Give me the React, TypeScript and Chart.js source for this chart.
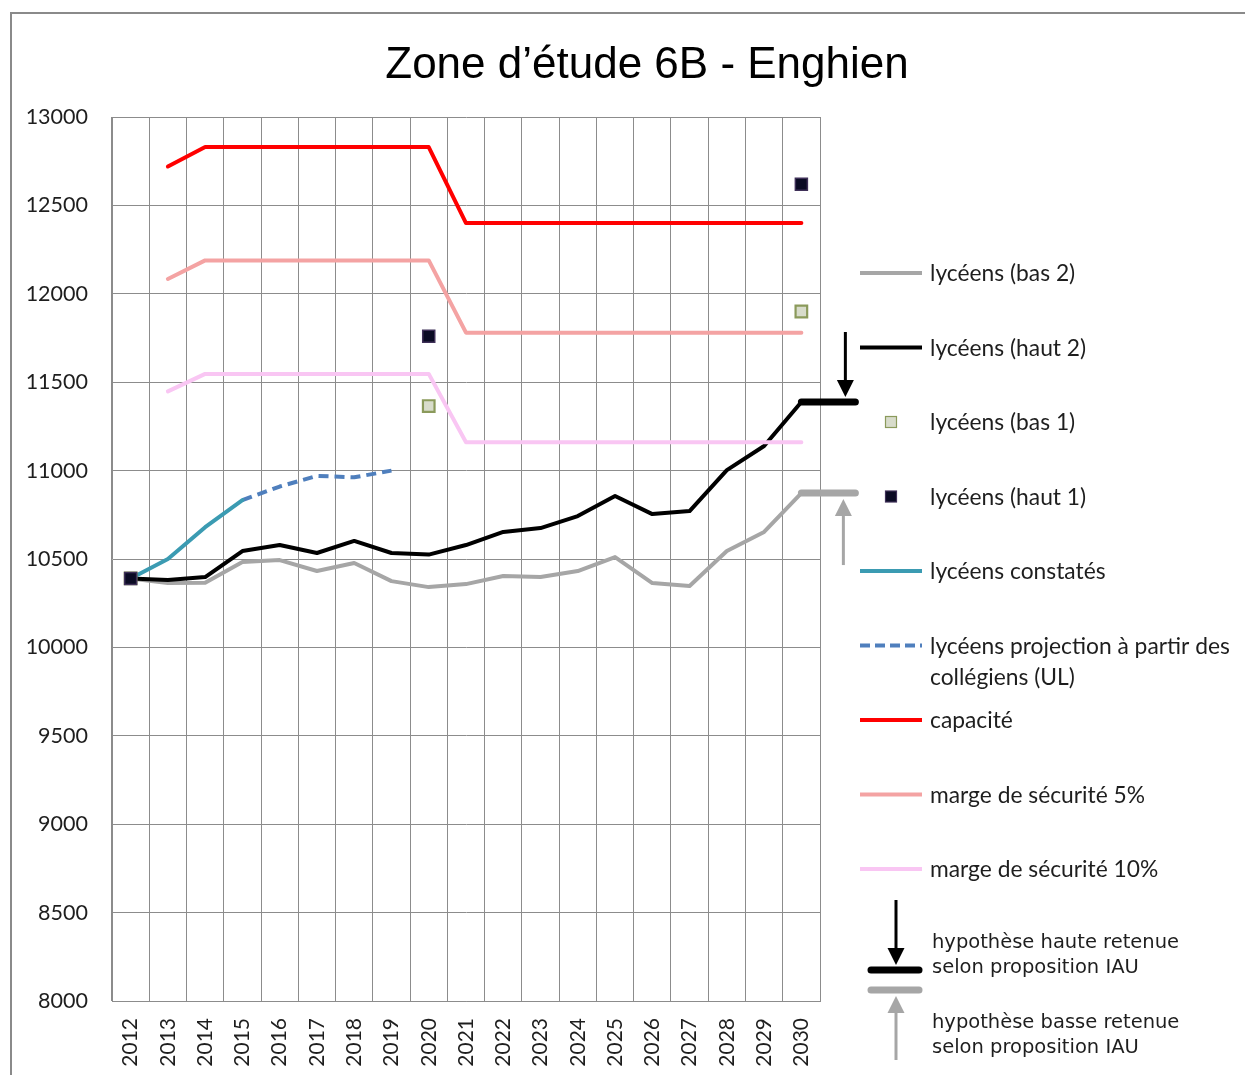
import React, { useEffect, useRef } from "react";
import { Chart, registerables } from "chart.js";

Chart.register(...registerables);

const years = ["2012", "2013", "2014", "2015", "2016", "2017", "2018", "2019", "2020", "2021", "2022", "2023", "2024", "2025", "2026", "2027", "2028", "2029", "2030"];

const yMin = 8000;
const yMax = 13000;
const yStep = 500;

const titleText = "Zone d’étude 6B - Enghien";

const lyceensBas2 = [10390, 10364, 10366, 10483, 10494, 10432, 10477, 10375, 10341, 10358, 10404, 10398, 10432, 10511, 10364, 10347, 10545, 10653, 10873];
const lyceensHaut2 = [10390, 10381, 10398, 10545, 10579, 10534, 10602, 10534, 10525, 10579, 10653, 10675, 10743, 10856, 10754, 10771, 11003, 11139, 11388];
const lyceensBas1 = [10390, null, null, null, null, null, null, null, 11365, null, null, null, null, null, null, null, null, null, 11900];
const lyceensHaut1 = [10390, null, null, null, null, null, null, null, 11760, null, null, null, null, null, null, null, null, null, 12620];
const lyceensConstates = [10390, 10500, 10680, 10833, null, null, null, null, null, null, null, null, null, null, null, null, null, null, null];
const lyceensProjection = [null, null, null, 10833, 10910, 10970, 10962, 11000, null, null, null, null, null, null, null, null, null, null, null];
const capacite = [null, 12720, 12830, 12830, 12830, 12830, 12830, 12830, 12830, 12400, 12400, 12400, 12400, 12400, 12400, 12400, 12400, 12400, 12400];
const marge5 = [null, 12084, 12189, 12189, 12189, 12189, 12189, 12189, 12189, 11780, 11780, 11780, 11780, 11780, 11780, 11780, 11780, 11780, 11780];
const marge10 = [null, 11448, 11547, 11547, 11547, 11547, 11547, 11547, 11547, 11160, 11160, 11160, 11160, 11160, 11160, 11160, 11160, 11160, 11160];

const legendLabels = [
  ["lycéens (bas 2)"],
  ["lycéens (haut 2)"],
  ["lycéens (bas 1)"],
  ["lycéens (haut 1)"],
  ["lycéens constatés"],
  ["lycéens projection à partir des", "collégiens (UL)"],
  ["capacité"],
  ["marge de sécurité 5%"],
  ["marge de sécurité 10%"],
];
const hypoHaute = ["hypothèse haute retenue", "selon proposition IAU"];
const hypoBasse = ["hypothèse basse retenue", "selon proposition IAU"];

const C = {
  gray: "#a6a6a6",
  black: "#000000",
  teal: "#3b9bb2",
  dash: "#4f7fbd",
  red: "#ff0000",
  m5: "#f4a3a3",
  m10: "#f9c6f3",
  h1Fill: "#0b0b24",
  h1Border: "#3f3058",
  b1Fill: "#d8dccb",
  b1Border: "#8b9a5b",
  grid: "#8c8c8c",
  text: "#1e1e1e",
  frame: "#8a8a8a",
};

function drawArrow(ctx: CanvasRenderingContext2D, x: number, yFrom: number, yTip: number, color: string) {
  const dir = yTip > yFrom ? 1 : -1;
  const headH = 17;
  const headW = 17;
  ctx.strokeStyle = color;
  ctx.fillStyle = color;
  ctx.lineWidth = 3;
  ctx.lineCap = "butt";
  ctx.beginPath();
  ctx.moveTo(x, yFrom);
  ctx.lineTo(x, yTip - dir * headH + dir * 2);
  ctx.stroke();
  ctx.beginPath();
  ctx.moveTo(x, yTip);
  ctx.lineTo(x - headW / 2, yTip - dir * headH);
  ctx.lineTo(x + headW / 2, yTip - dir * headH);
  ctx.closePath();
  ctx.fill();
}

function drawBar(ctx: CanvasRenderingContext2D, x1: number, x2: number, y: number, color: string, w: number) {
  ctx.strokeStyle = color;
  ctx.lineWidth = w;
  ctx.lineCap = "round";
  ctx.beginPath();
  ctx.moveTo(x1, y);
  ctx.lineTo(x2, y);
  ctx.stroke();
}

function drawSquare(ctx: CanvasRenderingContext2D, x: number, y: number, side: number, fill: string, border: string, bw: number) {
  ctx.fillStyle = fill;
  ctx.fillRect(x - side / 2, y - side / 2, side, side);
  ctx.strokeStyle = border;
  ctx.lineWidth = bw;
  ctx.strokeRect(x - side / 2, y - side / 2, side, side);
}

const overlayPlugin = {
  id: "overlay",
  afterDatasetsDraw(chart: any) {
    const ctx: CanvasRenderingContext2D = chart.ctx;
    const xs = chart.scales.x;
    const ys = chart.scales.y;
    const last = years.length - 1;
    const x0 = xs.getPixelForValue(last);
    const yH = ys.getPixelForValue(lyceensHaut2[last]);
    const yB = ys.getPixelForValue(lyceensBas2[last]);
    ctx.save();
    drawBar(ctx, x0, x0 + 54, yH, C.black, 7);
    drawBar(ctx, x0, x0 + 54, yB, C.gray, 7);
    drawArrow(ctx, x0 + 44, yH - 70, yH - 5, C.black);
    drawArrow(ctx, x0 + 42, yB + 72, yB + 6, C.gray);
    ctx.restore();
  },
  afterDraw(chart: any) {
    const ctx: CanvasRenderingContext2D = chart.ctx;
    ctx.save();
    // frame
    ctx.strokeStyle = C.frame;
    ctx.lineWidth = 2;
    ctx.beginPath();
    ctx.moveTo(11, 1075);
    ctx.lineTo(11, 13);
    ctx.lineTo(1245, 13);
    ctx.stroke();

    // title
    ctx.fillStyle = "#000";
    ctx.font = '44px "Liberation Sans", Arial, sans-serif';
    ctx.textAlign = "center";
    ctx.textBaseline = "alphabetic";
    ctx.fillText(titleText, 647, 78);

    // legend
    const lx1 = 860;
    const lx2 = 922;
    const tx = 930;
    const y0 = 273;
    const step = 74.5;
    const styles = [
      { kind: "line", color: C.gray },
      { kind: "line", color: C.black },
      { kind: "sq", fill: C.b1Fill, border: C.b1Border },
      { kind: "sq", fill: C.h1Fill, border: C.h1Border },
      { kind: "line", color: C.teal },
      { kind: "dash", color: C.dash },
      { kind: "line", color: C.red },
      { kind: "line", color: C.m5 },
      { kind: "line", color: C.m10 },
    ];
    ctx.textAlign = "left";
    ctx.textBaseline = "middle";
    ctx.font = '22.8px Lato, "Noto Sans", sans-serif';
    legendLabels.forEach((lines, i) => {
      const y = y0 + i * step;
      const s: any = styles[i];
      if (s.kind === "line" || s.kind === "dash") {
        ctx.strokeStyle = s.color;
        ctx.lineWidth = 4;
        ctx.lineCap = "butt";
        ctx.setLineDash(s.kind === "dash" ? [10, 5] : []);
        ctx.beginPath();
        ctx.moveTo(lx1, y);
        ctx.lineTo(lx2, y);
        ctx.stroke();
        ctx.setLineDash([]);
      } else {
        drawSquare(ctx, 891, y, 11, s.fill, s.border, 1.2);
      }
      ctx.fillStyle = C.text;
      lines.forEach((t, j) => ctx.fillText(t, tx, y + 1 + j * 31));
    });

    // hypothesis legend
    drawArrow(ctx, 896, 900, 965, C.black);
    drawBar(ctx, 871, 919, 970, C.black, 7);
    drawBar(ctx, 871, 919, 990, C.gray, 7);
    drawArrow(ctx, 896, 1060, 996, C.gray);
    ctx.font = '19.5px "DejaVu Sans", sans-serif';
    ctx.textBaseline = "alphabetic";
    ctx.fillStyle = C.text;
    hypoHaute.forEach((t, j) => ctx.fillText(t, 932, 948 + j * 25));
    hypoBasse.forEach((t, j) => ctx.fillText(t, 932, 1028 + j * 25));
    ctx.restore();
  },
};

export default function App() {
  const ref = useRef<HTMLCanvasElement | null>(null);
  useEffect(() => {
    if (!ref.current) return;
    const lineBase = {
      pointRadius: 0,
      pointHoverRadius: 0,
      borderWidth: 4,
      tension: 0,
      fill: false,
      borderJoinStyle: "round" as const,
      borderCapStyle: "round" as const,
      spanGaps: false,
    };
    const chart = new Chart(ref.current, {
      type: "line",
      data: {
        labels: years,
        datasets: [
          {
            label: "lycéens (haut 1)",
            data: lyceensHaut1,
            showLine: false,
            pointStyle: "rect",
            pointRadius: 8.5,
            pointBackgroundColor: C.h1Fill,
            pointBorderColor: C.h1Border,
            pointBorderWidth: 1.5,
            borderColor: C.h1Fill,
            backgroundColor: C.h1Fill,
            order: 0,
          },
          {
            label: "lycéens (bas 1)",
            data: lyceensBas1,
            showLine: false,
            pointStyle: "rect",
            pointRadius: 8.2,
            pointBackgroundColor: C.b1Fill,
            pointBorderColor: C.b1Border,
            pointBorderWidth: 2.2,
            borderColor: C.b1Border,
            backgroundColor: C.b1Fill,
            order: 1,
          },
          { ...lineBase, label: "lycéens constatés", data: lyceensConstates, borderColor: C.teal, order: 2 },
          { ...lineBase, label: "lycéens projection à partir des collégiens (UL)", data: lyceensProjection, borderColor: C.dash, borderDash: [10, 6], borderCapStyle: "butt" as const, order: 2 },
          { ...lineBase, label: "lycéens (haut 2)", data: lyceensHaut2, borderColor: C.black, order: 3 },
          { ...lineBase, label: "lycéens (bas 2)", data: lyceensBas2, borderColor: C.gray, order: 4 },
          { ...lineBase, label: "marge de sécurité 10%", data: marge10, borderColor: C.m10, order: 2 },
          { ...lineBase, label: "capacité", data: capacite, borderColor: C.red, order: 5 },
          { ...lineBase, label: "marge de sécurité 5%", data: marge5, borderColor: C.m5, order: 5 },
        ],
      },
      options: {
        animation: false,
        responsive: false,
        maintainAspectRatio: false,
        events: [],
        layout: { padding: { top: 117, right: 425, bottom: 0, left: 0 }, autoPadding: false },
        plugins: {
          legend: { display: false },
          title: { display: false },
          tooltip: { enabled: false },
        },
        scales: {
          x: {
            type: "category",
            offset: true,
            grid: { offset: true, color: C.grid, lineWidth: 1, drawTicks: false },
            border: { color: C.grid, width: 1 },
            ticks: {
              color: C.text,
              font: { family: "Lato, 'Noto Sans', sans-serif", size: 21 },
              minRotation: 90,
              maxRotation: 90,
              padding: 17,
              autoSkip: false,
            },
            afterFit(scale: any) {
              scale.height = 74;
            },
          },
          y: {
            min: yMin,
            max: yMax,
            grid: { color: C.grid, lineWidth: 1, drawTicks: false },
            border: { color: C.grid, width: 1 },
            ticks: {
              stepSize: yStep,
              color: C.text,
              font: { family: "Lato, 'Noto Sans', sans-serif", size: 21.5 },
              padding: 24,
              callback: (v: any) => String(v),
            },
            afterFit(scale: any) {
              scale.width = 112;
            },
          },
        },
      },
      plugins: [overlayPlugin],
    });
    return () => chart.destroy();
  }, []);

  return (
    <div style={{ position: "absolute", left: 0, top: 0, width: 1245, height: 1075, background: "#fff" }}>
      <canvas ref={ref} width={1245} height={1075} style={{ display: "block", width: 1245, height: 1075 }} />
    </div>
  );
}
